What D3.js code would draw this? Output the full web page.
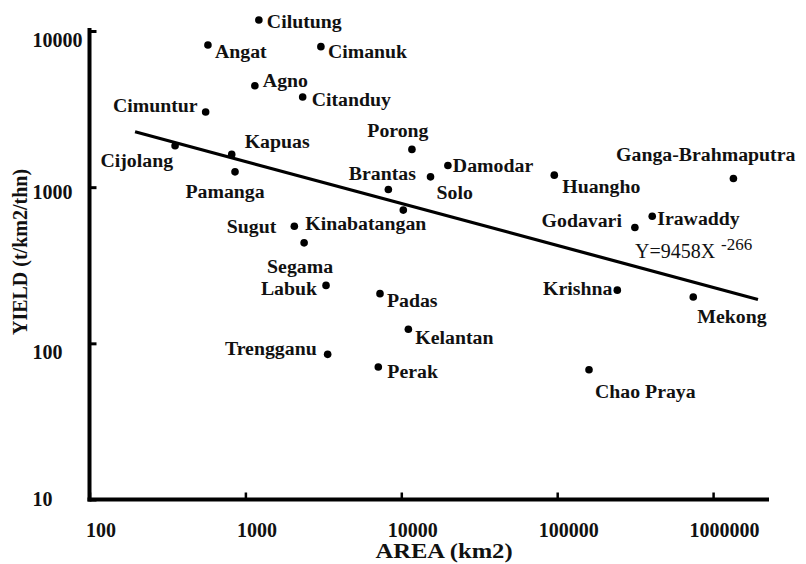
<!DOCTYPE html>
<html>
<head>
<meta charset="utf-8">
<script src="https://cdn.jsdelivr.net/npm/d3@7"></script>
<style>
  html, body { margin: 0; padding: 0; background: #fff; }
  svg { display: block; }
  text { font-family: "Liberation Serif", "Times New Roman", serif; fill: #111; }
</style>
</head>
<body>
<svg id="chart" width="806" height="564"></svg>
<script>
// ---- data ----
const rivers = ["Cilutung","Angat","Cimanuk","Agno","Citanduy","Cimuntur","Cijolang","Kapuas","Pamanga",
  "Brantas","Porong","Damodar","Solo","Huangho","Ganga-Brahmaputra","Irawaddy","Godavari","Krishna",
  "Mekong","Chao Praya","Kelantan","Padas","Perak","Labuk","Trengganu","Sugut","Segama","Kinabatangan"];
const areas = [1220, 575, 3050, 1150, 2330, 556, 354, 817, 858,
  8260, 11700, 19900, 15400, 95800, 1350000, 407000, 315000, 243000,
  746000, 160000, 11100, 7300, 7120, 3290, 3370, 2060, 2380, 10300];
const yields = [11760, 8130, 7940, 4460, 3775, 3027, 1840, 1621, 1253,
  967, 1745, 1377, 1164, 1194, 1137, 651, 552, 219,
  198, 67.8, 123, 208, 70.5, 235, 85, 562, 440, 713];
const trendArea = [196, 1940000];
const trendYield = [2263, 191];
const xTicks = [100, 1000, 10000, 100000, 1000000];
const yTicks = [10, 100, 1000, 10000];
const equationText = "Y=9458X";
const equationExp = "-266";
const xTitle = "AREA (km2)";
const yTitle = "YIELD (t/km2/thn)";

// ---- label layout (offsets from the point, anchor) ----
const labelLayout = {
  "Cilutung": [8, 8, "start"], "Angat": [7, 13, "start"], "Cimanuk": [7, 11, "start"],
  "Agno": [8, 1, "start"], "Citanduy": [9, 9, "start"], "Cimuntur": [-8, 0, "end"],
  "Cijolang": [-2, 21, "end"], "Kapuas": [13, -6, "start"], "Pamanga": [-10, 26, "middle"],
  "Brantas": [-6, -9, "middle"], "Porong": [-14, -12, "middle"], "Damodar": [5, 7, "start"],
  "Solo": [6, 22, "start"], "Huangho": [8, 18, "start"], "Ganga-Brahmaputra": [62, -17, "end"],
  "Irawaddy": [5, 9, "start"], "Godavari": [-13, 0, "end"], "Krishna": [-5, 5, "end"],
  "Mekong": [4, 26, "start"], "Chao Praya": [6, 28, "start"], "Kelantan": [7, 15, "start"],
  "Padas": [7, 13, "start"], "Perak": [9, 11, "start"], "Labuk": [-9, 10, "end"],
  "Trengganu": [-11, 1, "end"], "Sugut": [-18, 7, "end"], "Segama": [-4, 30, "middle"],
  "Kinabatangan": [-98, 20, "start"]
};

// horizontally widen text slightly (the reference is stretched)
function widen(sel, k) {
  sel.each(function () {
    const w = this.getComputedTextLength();
    d3.select(this).attr("textLength", (w * k).toFixed(1)).attr("lengthAdjust", "spacingAndGlyphs");
  });
}

const svg = d3.select("#chart");
const x = d3.scaleLog().domain([100, 2250000]).range([89.5, 768]);
const y = d3.scaleLog().domain([10, 10000]).range([499.5, 31]);

// Axes
const yAxis = svg.append("g").attr("transform", "translate(89.5,0)")
  .call(d3.axisLeft(y).tickValues(yTicks).tickSizeInner(-7).tickSizeOuter(0).tickFormat(d3.format("d")));
yAxis.select(".domain").attr("stroke", "#000").attr("stroke-width", 4).attr("d", "M0,28V501.5");
yAxis.selectAll(".tick line").attr("stroke", "#000").attr("stroke-width", 3);
const yDy = {10000: 15, 1000: 11.5, 100: 15.5, 10: 5.5};
yAxis.selectAll(".tick text")
  .attr("x", -57).attr("dy", null).attr("y", d => yDy[d])
  .attr("text-anchor", "start")
  .style("font-family", "'Liberation Serif', 'Times New Roman', serif")
  .style("font-size", "20px").style("font-weight", "bold").attr("fill", "#111");

const xAxis = svg.append("g").attr("transform", "translate(0,499.5)")
  .call(d3.axisBottom(x).tickValues(xTicks).tickSizeInner(-7).tickSizeOuter(0).tickFormat(d3.format("d")));
xAxis.select(".domain").attr("stroke", "#000").attr("stroke-width", 4).attr("d", "M87.5,0H769");
xAxis.selectAll(".tick line").attr("stroke", "#000").attr("stroke-width", 2.5);
xAxis.selectAll(".tick text")
  .attr("x", 11).attr("y", 37).attr("dy", null)
  .attr("text-anchor", "middle")
  .style("font-family", "'Liberation Serif', 'Times New Roman', serif")
  .style("font-size", "20px").style("font-weight", "bold").attr("fill", "#111");

// Axis titles
svg.append("text").attr("x", 444).attr("y", 558).attr("text-anchor", "middle")
  .style("font-size", "21px").style("font-weight", "bold").text(xTitle)
  .call(widen, 1.17);
svg.append("text").attr("transform", "translate(27,252) rotate(-90)").attr("text-anchor", "middle")
  .style("font-size", "20px").style("font-weight", "bold").text(yTitle);

// Trend line
svg.append("line")
  .attr("x1", x(trendArea[0])).attr("y1", y(trendYield[0]))
  .attr("x2", x(trendArea[1])).attr("y2", y(trendYield[1]))
  .attr("stroke", "#000").attr("stroke-width", 3.2);

// Points
const pts = rivers.map((n, i) => ({name: n, a: areas[i], v: yields[i]}));
svg.append("g").selectAll("circle").data(pts).join("circle")
  .attr("cx", d => x(d.a)).attr("cy", d => y(d.v)).attr("r", 3.8).attr("fill", "#000");

svg.append("g").selectAll("text").data(pts).join("text")
  .attr("x", d => x(d.a) + labelLayout[d.name][0])
  .attr("y", d => y(d.v) + labelLayout[d.name][1])
  .attr("text-anchor", d => labelLayout[d.name][2])
  .style("font-size", "18.5px").style("font-weight", "bold")
  .text(d => d.name)
  .call(widen, 1.07);

// Equation
svg.append("text").attr("x", 635).attr("y", 258).style("font-size", "20px").text(equationText);
svg.append("text").attr("x", 721).attr("y", 250).style("font-size", "17px").text(equationExp);
</script>
</body>
</html>
